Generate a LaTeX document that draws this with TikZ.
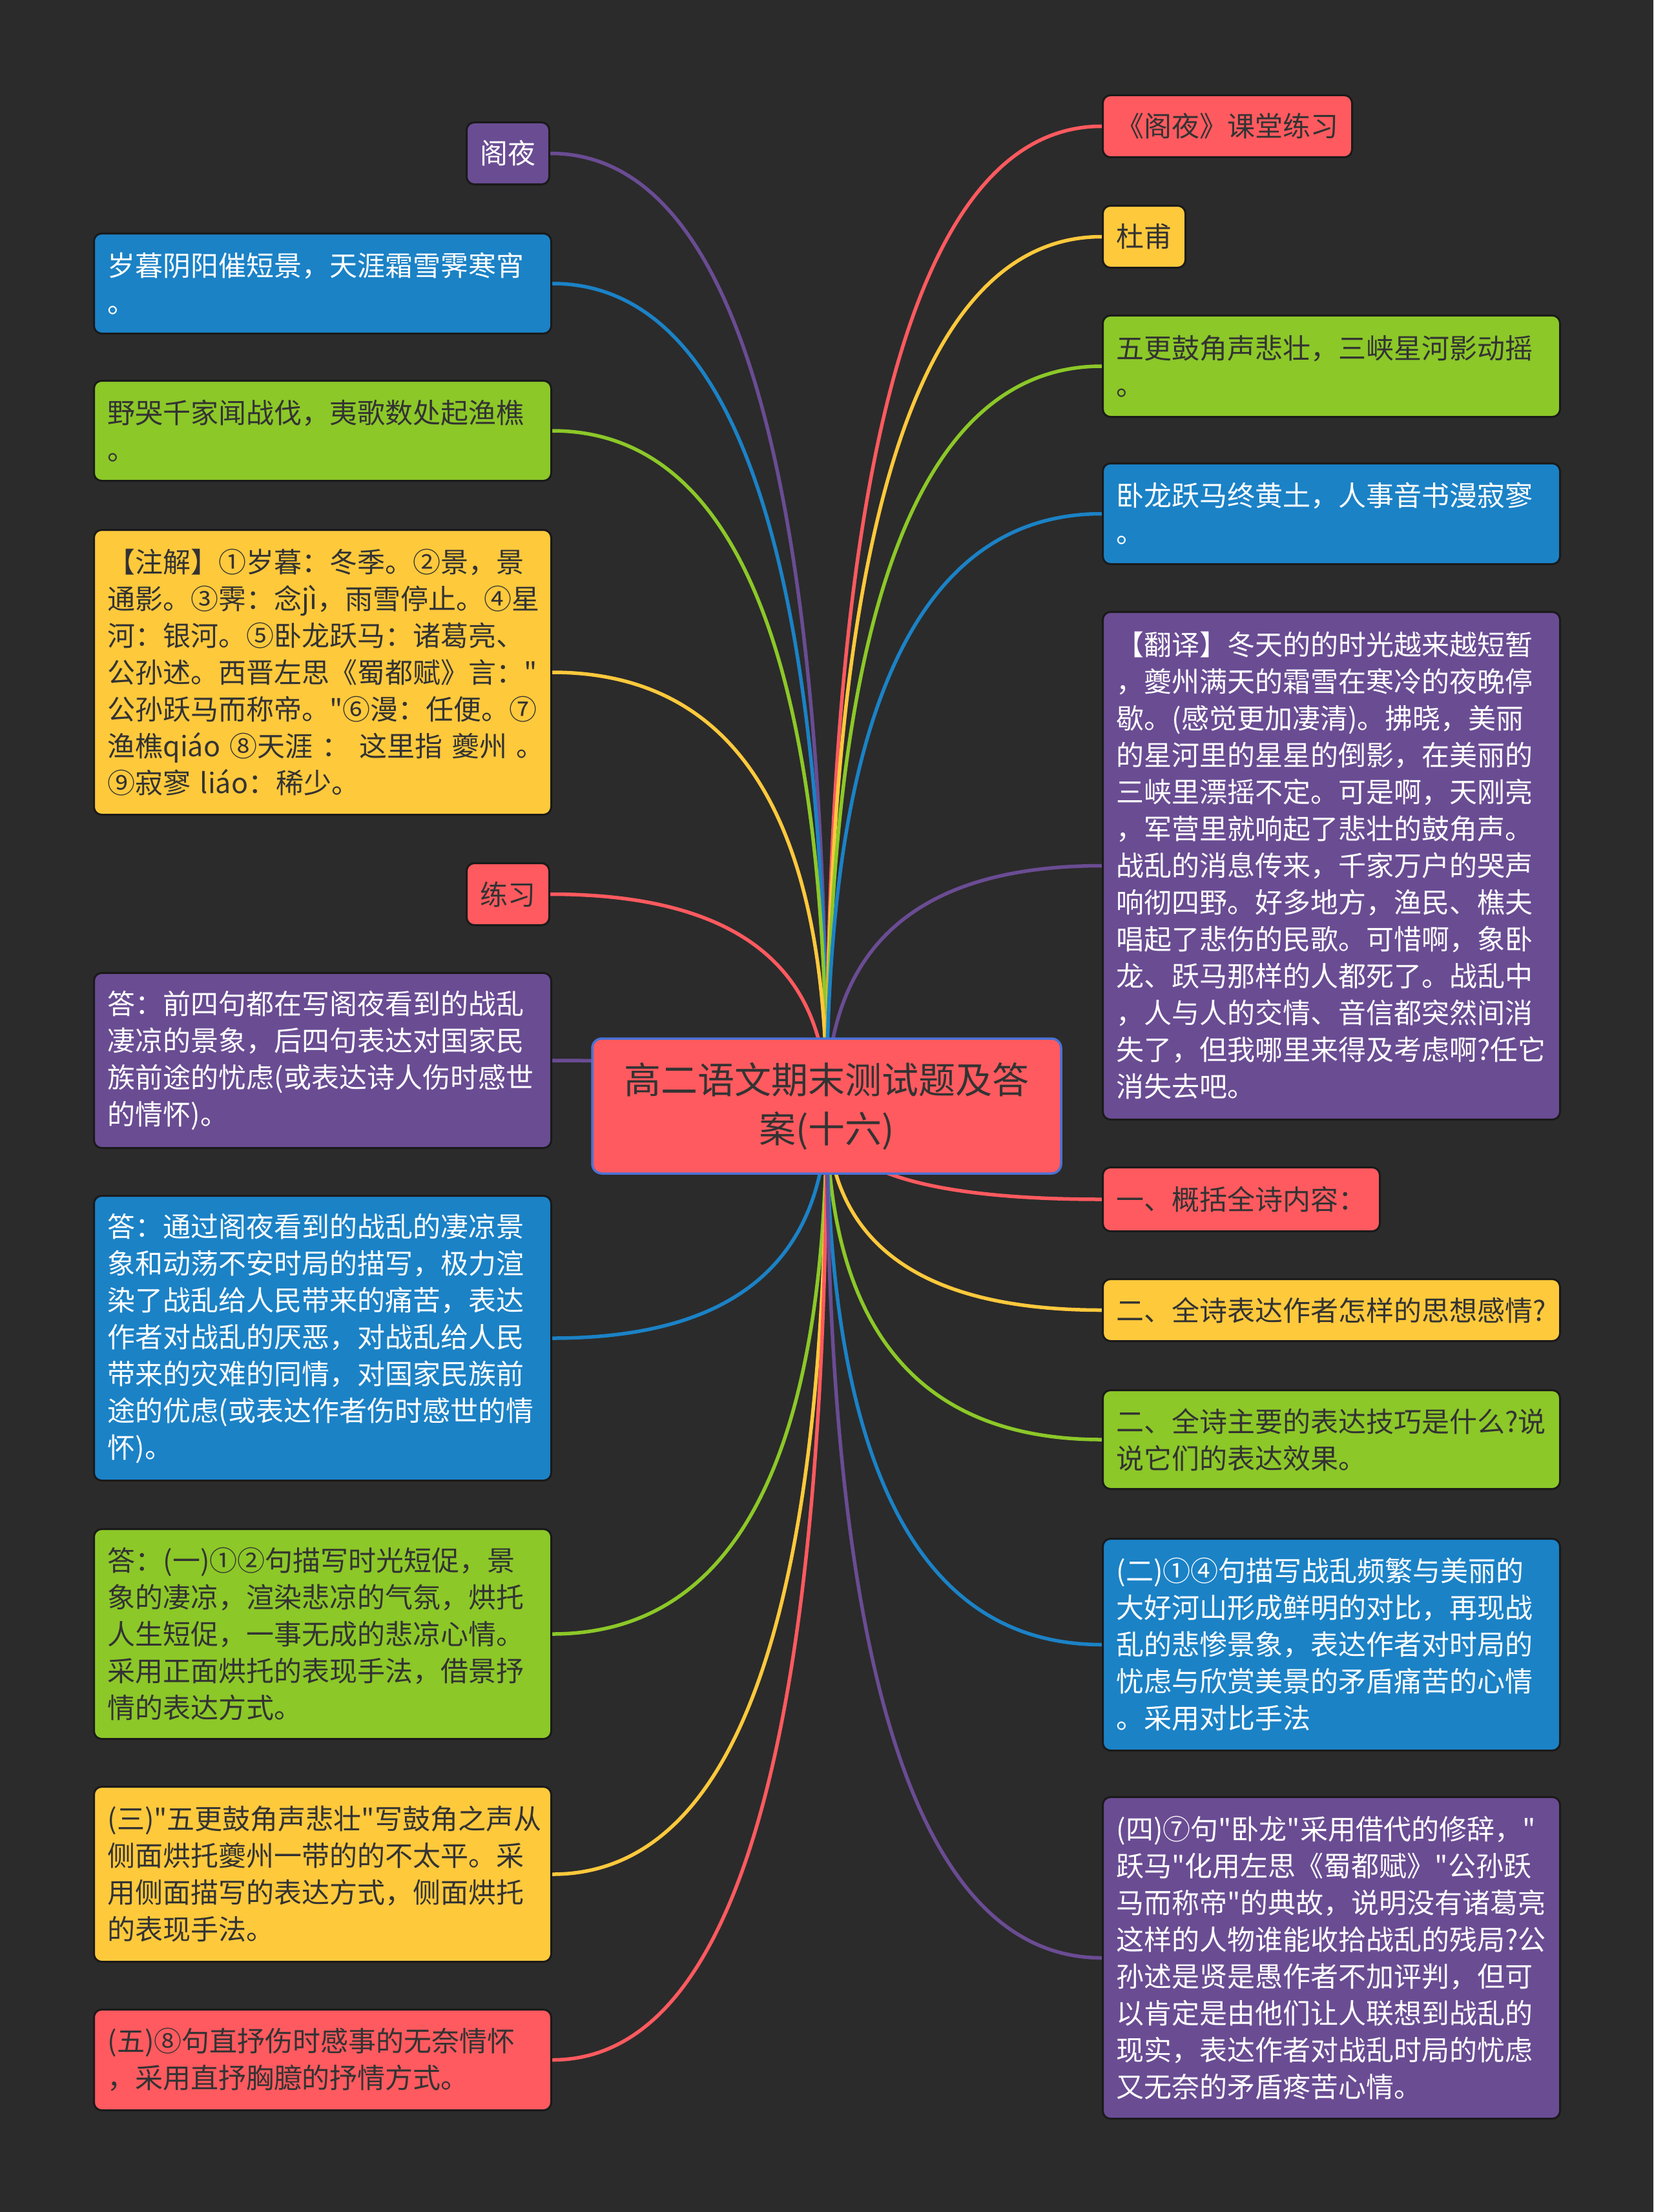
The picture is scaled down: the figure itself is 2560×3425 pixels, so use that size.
\documentclass[tikz,border=0pt]{standalone}
\usepackage{fontspec}
\setmainfont{Noto Sans CJK SC}[Ligatures=TeXOff]
\usetikzlibrary{calc}
\definecolor{bgc}{HTML}{2B2B2B}
\definecolor{cred}{HTML}{FF5A5F}
\definecolor{cyel}{HTML}{FFC93C}
\definecolor{cgrn}{HTML}{8CC828}
\definecolor{cblu}{HTML}{1B82C6}
\definecolor{cpur}{HTML}{6A4C93}
\definecolor{dtext}{HTML}{333333}
\definecolor{edgec}{HTML}{1A1A1A}
\definecolor{rootb}{HTML}{4A72D6}
\pgfdeclarelayer{bg}
\pgfsetlayers{bg,main}
\tikzset{
  box/.style={draw=edgec, line width=3pt, rounded corners=12pt, inner xsep=21pt, inner ysep=0pt,
    font=\fontsize{43pt}{57pt}\selectfont, align=left},
  wide/.style={box, text width=666pt, anchor=north west},
  shortl/.style={box, anchor=north east},
  shortr/.style={box, anchor=north west},
  nred/.style={fill=cred, text=dtext},
  nyel/.style={fill=cyel, text=dtext},
  ngrn/.style={fill=cgrn, text=dtext},
  nblu/.style={fill=cblu, text=white},
  npur/.style={fill=cpur, text=white},
  conn/.style={line width=5.5pt, draw=#1},
}
\newcommand\linkL[2]{\draw[conn=#2] (root.center) .. controls ($(root.center)!0.6667!(root.center|-#1.east)$) and ($(#1.east)!0.6667!(root.center|-#1.east)$) .. (#1.east);}
\newcommand\linkR[2]{\draw[conn=#2] (root.center) .. controls ($(root.center)!0.6667!(root.center|-#1.west)$) and ($(#1.west)!0.6667!(root.center|-#1.west)$) .. (#1.west);}
\begin{document}
\begin{tikzpicture}[x=1pt,y=-1pt]
\begin{pgfonlayer}{bg}
\fill[bgc] (0,0) rectangle (2560,3425);
\end{pgfonlayer}
\useasboundingbox (0,0) rectangle (2560,3425);

% root
\node[draw=rootb, line width=3.5pt, fill=cred, rounded corners=15pt, minimum width=726pt, minimum height=209pt,
  text width=690pt, align=center, text=dtext, font=\fontsize{57pt}{76pt}\selectfont, inner sep=0pt]
  (root) at (1280,1712.5) {高二语文期末测试题及答\\案(十六)};

% left column
\node[shortl, npur, minimum height=96pt] (L1) at (852,188) {阁夜};
\node[wide, nblu, minimum height=155pt] (L2) at (144,360) {岁暮阴阳催短景，天涯霜雪霁寒宵\\。};
\node[wide, ngrn, minimum height=155pt] (L3) at (144,588) {野哭千家闻战伐，夷歌数处起渔樵\\。};
\node[wide, nyel, minimum height=441pt] (L4) at (144,819) {【注解】①岁暮：冬季。②景，景\\通影。③霁：念jì，雨雪停止。④星\\河：银河。⑤卧龙跃马：诸葛亮、\\公孙述。西晋左思《蜀都赋》言："\\公孙跃马而称帝。"⑥漫：任便。⑦\\渔樵qiáo~⑧天涯~：~这里指~夔州~。\\⑨寂寥~liáo：稀少。};
\node[shortl, nred, minimum height=96pt] (L5) at (852,1335) {练习};
\node[wide, npur, minimum height=271pt] (L6) at (144,1505) {答：前四句都在写阁夜看到的战乱\\凄凉的景象，后四句表达对国家民\\族前途的忧虑(或表达诗人伤时感世\\的情怀)。};
\node[wide, nblu, minimum height=441pt] (L7) at (144,1850) {答：通过阁夜看到的战乱的凄凉景\\象和动荡不安时局的描写，极力渲\\染了战乱给人民带来的痛苦，表达\\作者对战乱的厌恶，对战乱给人民\\带来的灾难的同情，对国家民族前\\途的优虑(或表达作者伤时感世的情\\怀)。};
\node[wide, ngrn, minimum height=325pt] (L8) at (144,2366) {答：(一)①②句描写时光短促，景\\象的凄凉，渲染悲凉的气氛，烘托\\人生短促，一事无成的悲凉心情。\\采用正面烘托的表现手法，借景抒\\情的表达方式。};
\node[wide, nyel, minimum height=271pt] (L9) at (144,2765) {(三)"五更鼓角声悲壮"写鼓角之声从\\侧面烘托夔州一带的的不太平。采\\用侧面描写的表达方式，侧面烘托\\的表现手法。};
\node[wide, nred, minimum height=156pt] (L10) at (144,3110) {(五)⑧句直抒伤时感事的无奈情怀\\，采用直抒胸臆的抒情方式。};

% right column
\node[shortr, nred, minimum height=96pt] (R1) at (1706,146) {《阁夜》课堂练习};
\node[shortr, nyel, minimum height=96pt] (R2) at (1706,317) {杜甫};
\node[wide, ngrn, minimum height=157pt] (R3) at (1706,487) {五更鼓角声悲壮，三峡星河影动摇\\。};
\node[wide, nblu, minimum height=156pt] (R4) at (1706,716) {卧龙跃马终黄土，人事音书漫寂寥\\。};
\node[wide, npur, minimum height=786pt] (R5) at (1706,946) {【翻译】冬天的的时光越来越短暂\\，夔州满天的霜雪在寒冷的夜晚停\\歇。(感觉更加凄清)。拂晓，美丽\\的星河里的星星的倒影，在美丽的\\三峡里漂摇不定。可是啊，天刚亮\\，军营里就响起了悲壮的鼓角声。\\战乱的消息传来，千家万户的哭声\\响彻四野。好多地方，渔民、樵夫\\唱起了悲伤的民歌。可惜啊，象卧\\龙、跃马那样的人都死了。战乱中\\，人与人的交情、音信都突然间消\\失了，但我哪里来得及考虑啊?任它\\消失去吧。};
\node[shortr, nred, minimum height=99pt] (R6) at (1706,1806) {一、概括全诗内容：};
\node[wide, nyel, minimum height=96pt] (R7) at (1706,1979) {二、全诗表达作者怎样的思想感情?};
\node[wide, ngrn, minimum height=153pt] (R8) at (1706,2151) {二、全诗主要的表达技巧是什么?说\\说它们的表达效果。};
\node[wide, nblu, minimum height=328pt] (R9) at (1706,2381) {(二)①④句描写战乱频繁与美丽的\\大好河山形成鲜明的对比，再现战\\乱的悲惨景象，表达作者对时局的\\忧虑与欣赏美景的矛盾痛苦的心情\\。采用对比手法};
\node[wide, npur, minimum height=498pt] (R10) at (1706,2781) {(四)⑦句"卧龙"采用借代的修辞，"\\跃马"化用左思《蜀都赋》"公孙跃\\马而称帝"的典故，说明没有诸葛亮\\这样的人物谁能收拾战乱的残局?公\\孙述是贤是愚作者不加评判，但可\\以肯定是由他们让人联想到战乱的\\现实，表达作者对战乱时局的忧虑\\又无奈的矛盾疼苦心情。};

% connectors
\begin{pgfonlayer}{bg}
\linkL{L1}{cpur}
\linkL{L2}{cblu}
\linkL{L3}{cgrn}
\linkL{L4}{cyel}
\linkL{L5}{cred}
\linkL{L6}{cpur}
\linkL{L7}{cblu}
\linkL{L8}{cgrn}
\linkL{L9}{cyel}
\linkL{L10}{cred}
\linkR{R1}{cred}
\linkR{R2}{cyel}
\linkR{R3}{cgrn}
\linkR{R4}{cblu}
\linkR{R5}{cpur}
\linkR{R6}{cred}
\linkR{R7}{cyel}
\linkR{R8}{cgrn}
\linkR{R9}{cblu}
\linkR{R10}{cpur}
\end{pgfonlayer}
\end{tikzpicture}
\end{document}
